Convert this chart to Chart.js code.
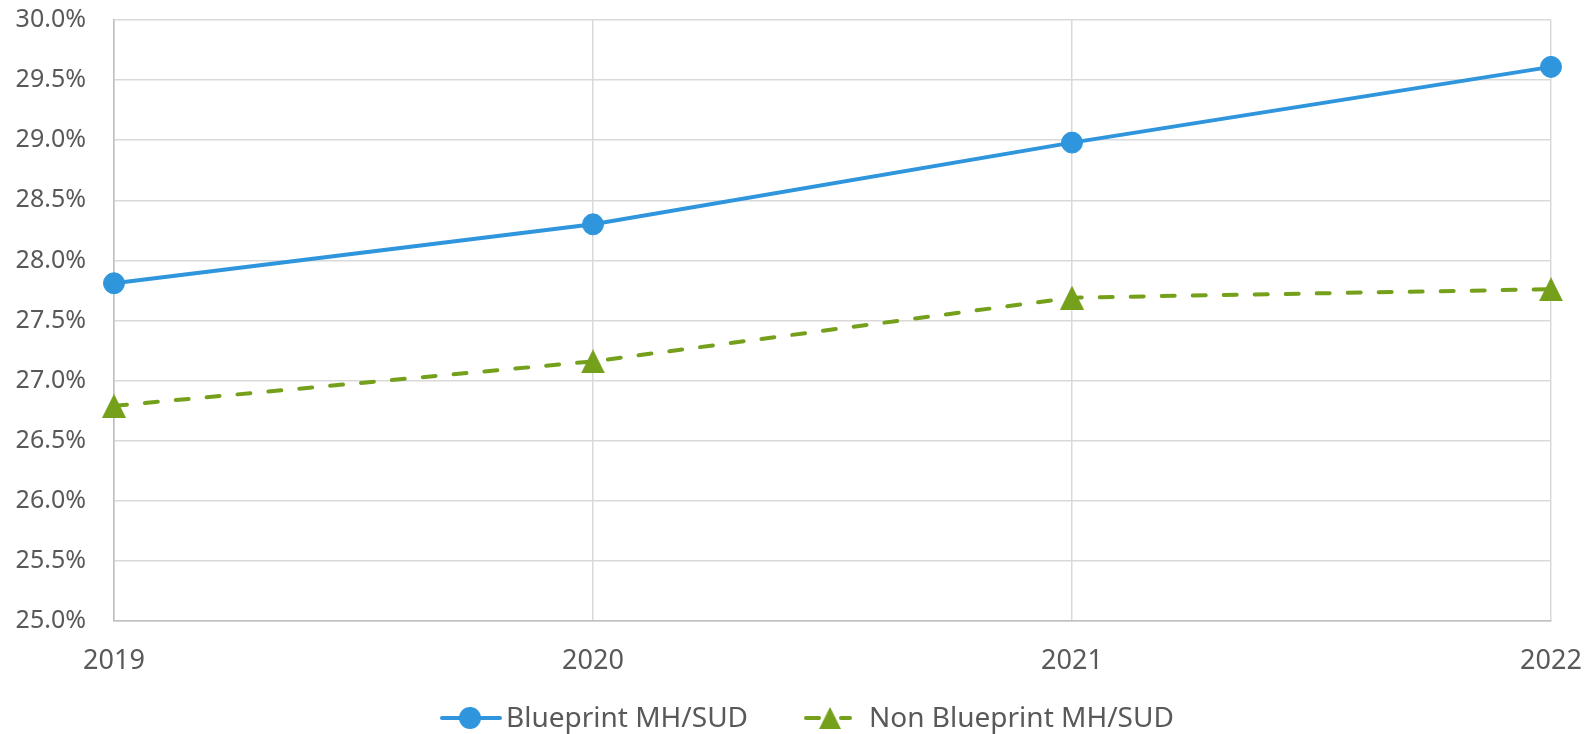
<!DOCTYPE html>
<html lang="en">
<head>
    <meta charset="UTF-8">
    <title>Blueprint MH/SUD</title>
    <script src="https://cdn.jsdelivr.net/npm/chart.js"></script>
    <style>
        html, body { margin: 0; padding: 0; background: #fff; }
        #wrap { width: 1595px; height: 734px; }
    </style>
</head>
<body>

<div id="wrap"><canvas id="lineChart"></canvas></div>

<script>
    const years = ['2019', '2020', '2021', '2022'];
    const blueprint = [27.81, 28.30, 28.98, 29.61];
    const nonBlueprint = [26.79, 27.16, 27.69, 27.76];
    const yTicks = { min: 25, max: 30, step: 0.5 };

    const blue = '#2f95dc';
    const green = '#74a01b';
    const textColor = '#595959';
    const fontFamily = '"Noto Sans", "Open Sans", sans-serif';

    // triangle marker centred on its box (chart.js centres on the centroid)
    function makeTriangle(size, color) {
        const c = document.createElement('canvas');
        c.width = size;
        c.height = size;
        const g = c.getContext('2d');
        g.fillStyle = color;
        g.beginPath();
        g.moveTo(size / 2, 0);
        g.lineTo(size, size);
        g.lineTo(0, size);
        g.closePath();
        g.fill();
        return c;
    }
    const triangle = makeTriangle(24, green);

    // legend drawn by hand: line + marker, like the office chart
    const bottomLegend = {
        id: 'bottomLegend',
        afterDraw(chart) {
            const ctx = chart.ctx;
            const y = 718;
            const items = [
                { x: 442, ds: chart.data.datasets[0], textX: 506 },
                { x: 806, ds: chart.data.datasets[1], textX: 869 }
            ];
            ctx.save();
            items.forEach(item => {
                const ds = item.ds;
                ctx.strokeStyle = ds.borderColor;
                ctx.lineWidth = ds.borderWidth;
                ctx.lineCap = 'round';
                ctx.beginPath();
                if (ds.borderDash) {
                    ctx.moveTo(item.x, y); ctx.lineTo(item.x + 13, y);
                    ctx.moveTo(item.x + 35, y); ctx.lineTo(item.x + 44, y);
                } else {
                    ctx.moveTo(item.x, y); ctx.lineTo(item.x + 58, y);
                }
                ctx.stroke();
                if (ds.borderDash) {
                    ctx.drawImage(triangle, item.x + 24 - 11, y - 11, 22, 22);
                } else {
                    ctx.fillStyle = ds.pointBackgroundColor;
                    ctx.beginPath();
                    ctx.arc(item.x + 28, y, 11, 0, Math.PI * 2);
                    ctx.fill();
                }
                ctx.fillStyle = textColor;
                ctx.font = '28px ' + fontFamily;
                ctx.textBaseline = 'middle';
                ctx.textAlign = 'left';
                ctx.fillText(ds.label, item.textX, y + 1);
            });
            ctx.restore();
        }
    };

    const ctx = document.getElementById('lineChart').getContext('2d');

    new Chart(ctx, {
        type: 'line',
        data: {
            labels: years,
            datasets: [{
                label: 'Blueprint MH/SUD',
                data: blueprint,
                borderColor: blue,
                backgroundColor: blue,
                pointBackgroundColor: blue,
                pointBorderColor: blue,
                borderWidth: 4,
                pointStyle: 'circle',
                pointRadius: 10.5,
                pointBorderWidth: 1,
                tension: 0
            }, {
                label: 'Non Blueprint MH/SUD',
                data: nonBlueprint,
                borderColor: green,
                backgroundColor: green,
                pointBackgroundColor: green,
                pointBorderColor: green,
                borderWidth: 4,
                borderDash: [13, 18],
                borderCapStyle: 'round',
                pointStyle: triangle,
                pointRadius: 12,
                tension: 0
            }]
        },
        options: {
            responsive: true,
            maintainAspectRatio: false,
            animation: false,
            layout: { autoPadding: false, padding: { top: 20, right: 44, bottom: 57, left: 0 } },
            plugins: {
                legend: { display: false },
                tooltip: { enabled: false }
            },
            scales: {
                x: {
                    offset: false,
                    grid: { color: '#d9d9d9', lineWidth: 1.5, drawTicks: false },
                    border: { color: '#bfbfbf', width: 1.5 },
                    ticks: {
                        color: textColor,
                        font: { family: fontFamily, size: 27 },
                        padding: 24,
                        maxRotation: 0
                    },
                    afterFit(scale) {
                        scale.height = 56;
                        scale.paddingLeft = 0;
                        scale.paddingRight = 0;
                    }
                },
                y: {
                    min: yTicks.min,
                    max: yTicks.max,
                    grid: { color: '#d9d9d9', lineWidth: 1.5, drawTicks: false },
                    border: { color: '#bfbfbf', width: 1.5 },
                    ticks: {
                        stepSize: yTicks.step,
                        color: textColor,
                        font: { family: fontFamily, size: 25 },
                        padding: 28,
                        callback: v => v.toFixed(1) + '%'
                    },
                    afterFit(scale) {
                        scale.width = 114;
                        // tick padding would otherwise push the plot down
                        scale.paddingTop = 0;
                        scale.paddingBottom = 0;
                    }
                }
            }
        },
        plugins: [bottomLegend]
    });
</script>

</body>
</html>
